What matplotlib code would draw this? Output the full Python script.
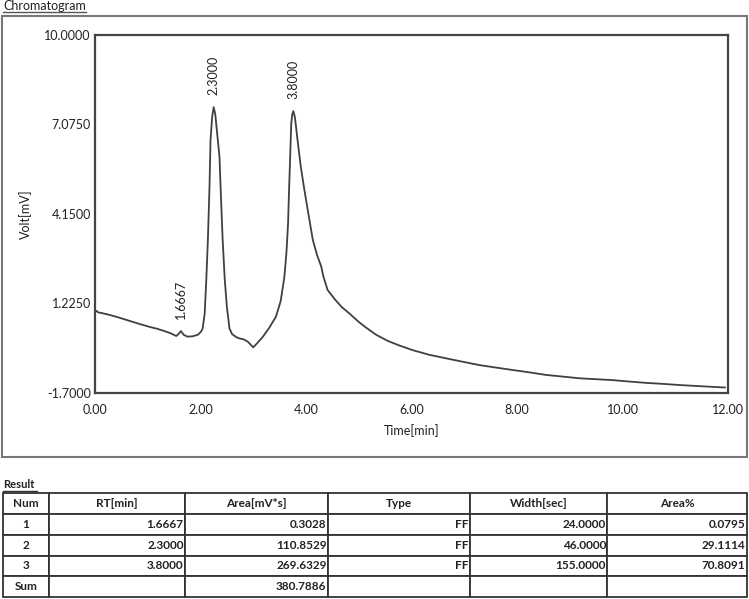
import matplotlib
matplotlib.use("Agg")
import matplotlib.pyplot as plt
from matplotlib.lines import Line2D
from matplotlib.patches import Rectangle

plt.rcParams['font.family'] = ['Lato', 'DejaVu Sans']

# ---- data ----
time_min = [0.0, 0.03, 0.06, 0.1, 0.25, 0.4, 0.55, 0.7, 0.85, 1.03, 1.17, 1.3, 1.42, 1.54,
            1.58, 1.63, 1.68, 1.75, 1.85, 1.95, 2.01, 2.04, 2.08, 2.11, 2.14, 2.17, 2.19,
            2.22, 2.25, 2.28, 2.32, 2.36, 2.39, 2.42, 2.46, 2.50, 2.55, 2.60, 2.68, 2.74,
            2.82, 2.90, 2.95, 3.0, 3.05, 3.18, 3.30, 3.43, 3.52, 3.59, 3.63, 3.66, 3.68,
            3.70, 3.72, 3.74, 3.76, 3.79, 3.84, 3.90, 3.97, 4.05, 4.13, 4.21, 4.29, 4.33,
            4.41, 4.55, 4.68, 4.82, 5.0, 5.15, 5.33, 5.55, 5.77, 6.02, 6.33, 6.66, 7.0,
            7.29, 7.6, 7.92, 8.25, 8.55, 8.9, 9.18, 9.5, 9.82, 10.15, 10.45, 10.75, 11.08,
            11.5, 11.94]
volt_mv = [0.95, 0.98, 0.93, 0.92, 0.86, 0.79, 0.71, 0.63, 0.55, 0.46, 0.40, 0.33, 0.26, 0.16,
           0.22, 0.32, 0.20, 0.14, 0.15, 0.20, 0.30, 0.40, 0.90, 2.0, 3.3, 5.0, 6.55,
           7.3, 7.63, 7.4, 6.7, 6.0, 4.6, 3.3, 2.0, 1.11, 0.40, 0.22, 0.12, 0.08,
           0.05, -0.03, -0.12, -0.21, -0.12, 0.13, 0.42, 0.79, 1.3, 2.09, 2.9, 3.83, 5.0,
           6.0, 7.09, 7.4, 7.5, 7.3, 6.55, 5.7, 4.92, 4.1, 3.29, 2.8, 2.42, 2.1,
           1.66, 1.35, 1.1, 0.90, 0.62, 0.42, 0.20, 0.0, -0.15, -0.30, -0.45, -0.57, -0.69,
           -0.79, -0.87, -0.95, -1.03, -1.11, -1.17, -1.22, -1.25, -1.28, -1.33, -1.37, -1.40, -1.44,
           -1.48, -1.52]

peak_labels = ["1.6667", "2.3000", "3.8000"]
peak_pos_t = [1.63, 2.25, 3.76]
peak_pos_v = [0.32, 7.63, 7.5]

y_ticks = [10.0, 7.075, 4.15, 1.225, -1.7]
x_ticks = [0, 2, 4, 6, 8, 10, 12]

table_header = ["Num", "RT[min]", "Area[mV*s]", "Type", "Width[sec]", "Area%"]
num_col = ["1", "2", "3", "Sum"]
rt_col = ["1.6667", "2.3000", "3.8000", ""]
area_col = ["0.3028", "110.8529", "269.6329", "380.7886"]
type_col = ["FF", "FF", "FF", ""]
width_col = ["24.0000", "46.0000", "155.0000", ""]
areapct_col = ["0.0795", "29.1114", "70.8091", ""]

W, H = 749, 599
fig = plt.figure(figsize=(W / 100, H / 100), dpi=100)

def fx(px):
    return px / W

def fy(py):
    return 1 - py / H

# outer frame + title
fig.patches.append(Rectangle((fx(2), fy(457)), fx(745), (455 - 14) / H, transform=fig.transFigure,
                             fill=False, edgecolor='#777777', lw=1.5))
fig.text(fx(3), fy(6), "Chromatogram", fontsize=9, va='center', ha='left', color='#222222')
fig.lines.append(Line2D([fx(3), fx(86)], [fy(12), fy(12)], transform=fig.transFigure,
                        color='#555555', lw=1))

# chart axes
ax = fig.add_axes([fx(95), fy(393), fx(728) - fx(95), fy(34.5) - fy(393)])
ax.plot(time_min, volt_mv, color='#404040', lw=1.3)
ax.set_xlim(0, 12)
ax.set_ylim(-1.7, 10.0)
ax.set_xticks(x_ticks)
ax.set_xticklabels([f"{v:.2f}" for v in x_ticks])
ax.set_yticks(y_ticks)
ax.set_yticklabels([f"{v:.4f}" for v in y_ticks])
ax.tick_params(length=0, labelsize=9, colors='#222222', pad=3)
ax.tick_params(axis='x', pad=8)
for s in ax.spines.values():
    s.set_color('#444444')
    s.set_linewidth(1.6)
ax.set_xlabel("Time[min]", fontsize=9, color='#222222', labelpad=6)
ax.set_ylabel("Volt[mV]", fontsize=9, color='#222222')
ax.yaxis.set_label_coords(fx(32) / (fx(728) - fx(95)) - fx(95) / (fx(728) - fx(95)), 0.5)

for lab, t, v in zip(peak_labels, peak_pos_t, peak_pos_v):
    ax.annotate(lab, (t, v), xytext=(0, 9), textcoords='offset points', rotation=90,
                ha='center', va='bottom', fontsize=9, color='#222222')

# result table
fig.text(fx(3), fy(485), "Result", fontsize=8, weight='bold', va='center', ha='left', color='#222222')
fig.lines.append(Line2D([fx(3), fx(37)], [fy(491), fy(491)], transform=fig.transFigure,
                        color='#333333', lw=1))

tax = fig.add_axes([fx(2.7), fy(597), fx(746.7) - fx(2.7), fy(493.3) - fy(597)])
tax.axis('off')
rows = [list(r) for r in zip(num_col, rt_col, area_col, type_col, width_col, areapct_col)]
col_px = [46.6, 135.7, 143.0, 142.0, 137.3, 139.4]
tot = sum(col_px)
tbl = tax.table(cellText=rows, colLabels=table_header, colWidths=[c / tot for c in col_px],
                bbox=[0, 0, 1, 1], cellLoc='right')
tbl.auto_set_font_size(False)
for (r, c), cell in tbl.get_celld().items():
    cell.set_edgecolor('#333333')
    cell.set_linewidth(1.3)
    cell.get_text().set_fontsize(8.5)
    cell.get_text().set_fontweight('bold')
    cell.get_text().set_color('#222222')
    cell.PAD = 0.01
    if r == 0 or c == 0:
        cell.get_text().set_ha('center')
        cell._loc = 'center'

fig.savefig("out.png", dpi=100)
